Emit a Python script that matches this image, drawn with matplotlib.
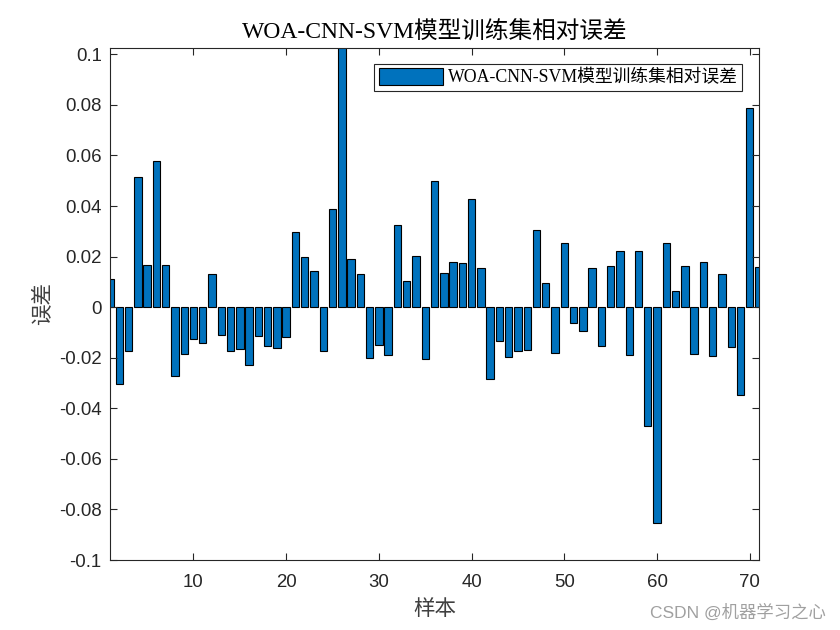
import matplotlib
matplotlib.use("Agg")
import matplotlib.pyplot as plt
import numpy as np

# relative error of each training sample
errors = [0.011, -0.0304, -0.0174, 0.0515, 0.0166, 0.058, 0.0166, -0.0273, -0.0186, -0.0126,
          -0.0141, 0.013, -0.011, -0.0174, -0.0166, -0.0229, -0.0115, -0.0154, -0.0162, -0.0119,
          0.0296, 0.0198, 0.0142, -0.0174, 0.0387, 0.11, 0.019, 0.013, -0.0202, -0.015,
          -0.019, 0.0324, 0.0103, 0.0202, -0.0206, 0.0498, 0.0134, 0.0178, 0.0174, 0.0427,
          0.0154, -0.0285, -0.0134, -0.0198, -0.0174, -0.017, 0.0304, 0.0095, -0.0182, 0.0253,
          -0.0063, -0.0095, 0.0154, -0.0154, 0.0162, 0.0221, -0.019, 0.0221, -0.047, -0.0854,
          0.0253, 0.0063, 0.0162, -0.0186, 0.0178, -0.0194, 0.013, -0.0158, -0.0348, 0.0787,
          0.0158]
samples = np.arange(1, len(errors) + 1)
title_text = 'WOA-CNN-SVM模型训练集相对误差'
x_ticks = [10, 20, 30, 40, 50, 60, 70]
y_ticks = [-0.1, -0.08, -0.06, -0.04, -0.02, 0, 0.02, 0.04, 0.06, 0.08, 0.1]

serif_cjk = ['Liberation Serif', 'Noto Sans CJK SC']
sans_cjk = ['Liberation Sans', 'Noto Sans CJK SC']

fig = plt.figure(figsize=(8.4, 6.3), dpi=100)
ax = fig.add_axes([0.131, 0.111, 0.7726, 0.8136])

ax.bar(samples, errors, width=0.8, color='#0072BD', edgecolor='black',
       linewidth=0.8, label=title_text)

ax.set_xlim(1, 71)
ax.set_ylim(-0.1, 0.1027)
ax.set_xticks(x_ticks)
ax.set_yticks(y_ticks)
ax.set_yticklabels(['-0.1', '-0.08', '-0.06', '-0.04', '-0.02', '0',
                    '0.02', '0.04', '0.06', '0.08', '0.1'])
ax.tick_params(direction='in', top=True, right=True, length=5, width=0.8,
               labelsize=13.4, colors='#262626')
ax.tick_params(axis='x', pad=10)
ax.tick_params(axis='y', pad=6)
for lab in ax.get_xticklabels() + ax.get_yticklabels():
    lab.set_family(sans_cjk)
for s in ax.spines.values():
    s.set_linewidth(0.8)
    s.set_color('#262626')

ax.set_title(title_text, family=serif_cjk, fontsize=17, pad=6)
ax.set_xlabel('样本', family=sans_cjk, fontsize=15.5, color='#404040', labelpad=6)
ax.set_ylabel('误差', family=sans_cjk, fontsize=15.5, color='#404040', labelpad=4)

leg = ax.legend(loc='upper right', bbox_to_anchor=(0.988, 0.986), prop={'family': serif_cjk, 'size': 12.8},
                fancybox=False, edgecolor='#262626', framealpha=1,
                handlelength=3.6, handleheight=1.1, borderpad=0.25, handletextpad=0.3)
leg.get_frame().set_linewidth(0.8)

fig.text(0.983, 0.015, 'CSDN @机器学习之心', family=sans_cjk, fontsize=12.5,
         color='#a0a0a0', ha='right', va='bottom')

fig.savefig('out.png', dpi=100)
